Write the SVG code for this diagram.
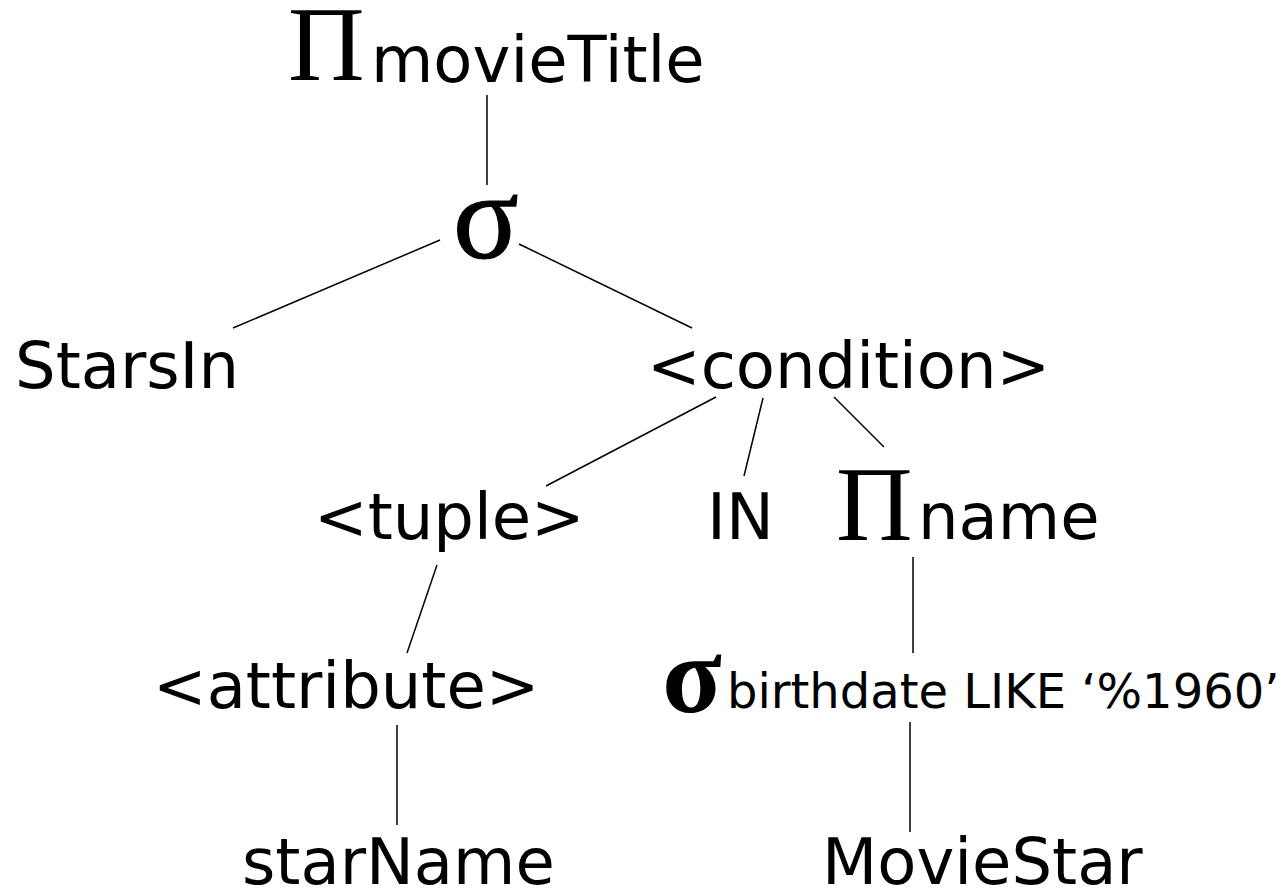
<svg xmlns="http://www.w3.org/2000/svg" width="1282" height="893" viewBox="0 0 1282 893">
<style>
.s{font-family:"DejaVu Sans",sans-serif;font-size:64px;fill:#000}
.m{font-family:"DejaVu Sans",sans-serif;font-size:48px;fill:#000}
.g{font-family:"Liberation Serif",serif;fill:#000}
.e line{stroke:#000;stroke-width:1.5}
</style>
<rect width="1282" height="893" fill="#fff"/>
<g class="e" id="connectors">
<line x1="487" y1="95" x2="487" y2="185"/>
<line x1="440" y1="240" x2="233" y2="328"/>
<line x1="519" y1="244" x2="692" y2="328"/>
<line x1="716" y1="397" x2="546" y2="486"/>
<line x1="763" y1="398" x2="744" y2="476"/>
<line x1="834" y1="397" x2="884" y2="447"/>
<line x1="437" y1="565" x2="407" y2="653"/>
<line x1="913" y1="557" x2="913" y2="653"/>
<line x1="397" y1="725" x2="397" y2="825"/>
<line x1="910" y1="722" x2="910" y2="832"/>
</g>
<g id="proj-top"><text class="g" x="288" y="80" font-size="106">Π</text><text class="s" x="371" y="82">movieTitle</text></g>
<g id="select-top"><text class="g" x="453" y="258" font-size="122" stroke="#000" stroke-width="1.2">σ</text></g>
<g id="starsin"><text class="s" x="15" y="388">StarsIn</text></g>
<g id="condition"><text class="s" x="647" y="388">&lt;condition&gt;</text></g>
<g id="tuple"><text class="s" x="314" y="539">&lt;tuple&gt;</text></g>
<g id="in"><text class="s" x="707" y="539">IN</text></g>
<g id="proj-name"><text class="g" x="836" y="540" font-size="106">Π</text><text class="s" x="918" y="539">name</text></g>
<g id="attribute"><text class="s" x="153" y="708">&lt;attribute&gt;</text></g>
<g id="select-birth"><text class="g" x="662" y="712" font-size="110" font-weight="bold">σ</text><text class="m" x="727" y="708">birthdate LIKE ‘%1960’</text></g>
<g id="starname"><text class="s" x="242" y="884">starName</text></g>
<g id="moviestar"><text class="s" x="822" y="884">MovieStar</text></g>
</svg>
